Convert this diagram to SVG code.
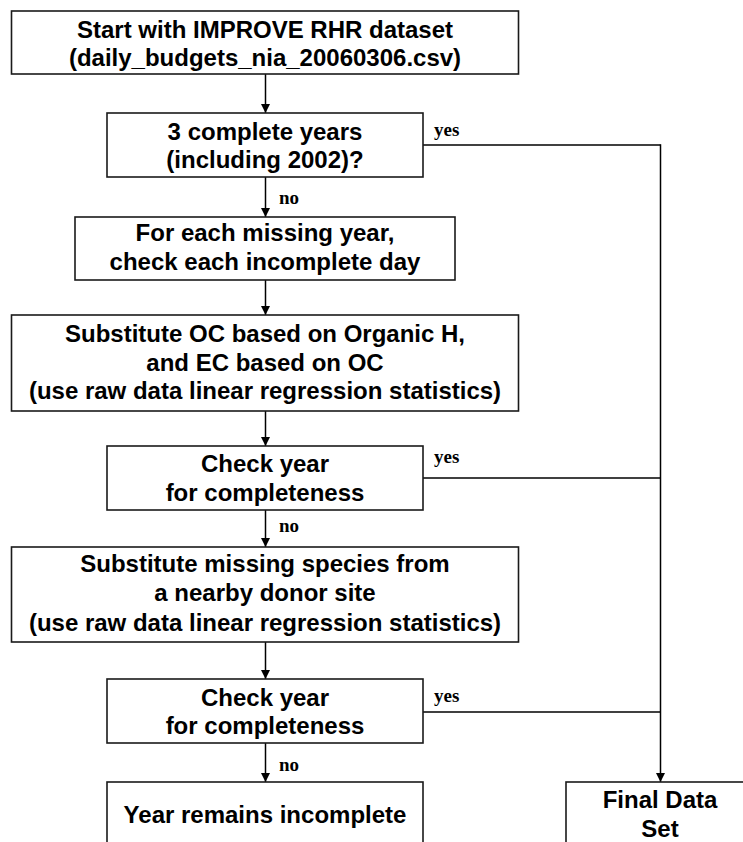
<svg xmlns="http://www.w3.org/2000/svg" width="743" height="842" viewBox="0 0 743 842">
<style>
.box{fill:#fff;stroke:#1a1a1a;stroke-width:1.6}
.t{font-family:"Liberation Sans",Arial,sans-serif;font-weight:bold;font-size:24px;fill:#000;text-anchor:middle}
.lbl{font-family:"Liberation Serif","Times New Roman",serif;font-weight:bold;font-size:19px;fill:#000}
.ln{fill:none;stroke:#000;stroke-width:1.5}
</style>
<defs>
<marker id="ah" markerUnits="userSpaceOnUse" markerWidth="10" markerHeight="11" refX="9" refY="4.5" orient="auto">
<path d="M0,0 L9,4.5 L0,9 Z" fill="#000"/>
</marker>
</defs>
<rect width="743" height="842" fill="#fff"/>
<g id="connectors">
<line class="ln" x1="265.5" y1="74" x2="265.5" y2="113" marker-end="url(#ah)"/>
<line class="ln" x1="265.5" y1="177" x2="265.5" y2="217" marker-end="url(#ah)"/>
<line class="ln" x1="265.5" y1="280" x2="265.5" y2="315" marker-end="url(#ah)"/>
<line class="ln" x1="265.5" y1="411" x2="265.5" y2="446" marker-end="url(#ah)"/>
<line class="ln" x1="265.5" y1="510" x2="265.5" y2="547" marker-end="url(#ah)"/>
<line class="ln" x1="265.5" y1="642" x2="265.5" y2="679" marker-end="url(#ah)"/>
<line class="ln" x1="265.5" y1="743" x2="265.5" y2="782" marker-end="url(#ah)"/>
<line class="ln" x1="423" y1="145" x2="660.5" y2="145"/>
<line class="ln" x1="423" y1="478" x2="660.5" y2="478"/>
<line class="ln" x1="423" y1="712" x2="660.5" y2="712"/>
<line class="ln" x1="660.5" y1="144.25" x2="660.5" y2="782" marker-end="url(#ah)"/>
<text class="lbl" x="434" y="136">yes</text>
<text class="lbl" x="434" y="463">yes</text>
<text class="lbl" x="434" y="702">yes</text>
<text class="lbl" x="279" y="204">no</text>
<text class="lbl" x="279" y="532">no</text>
<text class="lbl" x="279" y="771">no</text>
</g>
<g id="start">
<rect class="box" x="11.5" y="11" width="507" height="63"/>
<text class="t" x="265" y="38">Start with IMPROVE RHR dataset</text>
<text class="t" x="265" y="66">(daily_budgets_nia_20060306.csv)</text>
</g>
<g id="check3years">
<rect class="box" x="107" y="113" width="316" height="64"/>
<text class="t" x="265" y="140">3 complete years</text>
<text class="t" x="265" y="168">(including 2002)?</text>
</g>
<g id="eachmissing">
<rect class="box" x="75" y="217" width="380" height="63"/>
<text class="t" x="265" y="241">For each missing year,</text>
<text class="t" x="265" y="270">check each incomplete day</text>
</g>
<g id="substituteOC">
<rect class="box" x="11.5" y="315" width="507" height="96"/>
<text class="t" x="265" y="342">Substitute OC based on Organic H,</text>
<text class="t" x="265" y="371">and EC based on OC</text>
<text class="t" x="265" y="399">(use raw data linear regression statistics)</text>
</g>
<g id="checkyear1">
<rect class="box" x="107" y="446" width="316" height="64"/>
<text class="t" x="265" y="472">Check year</text>
<text class="t" x="265" y="501">for completeness</text>
</g>
<g id="substituteDonor">
<rect class="box" x="11.5" y="547" width="507" height="95"/>
<text class="t" x="265" y="572">Substitute missing species from</text>
<text class="t" x="265" y="601">a nearby donor site</text>
<text class="t" x="265" y="631">(use raw data linear regression statistics)</text>
</g>
<g id="checkyear2">
<rect class="box" x="107" y="679" width="316" height="64"/>
<text class="t" x="265" y="706">Check year</text>
<text class="t" x="265" y="734">for completeness</text>
</g>
<g id="incomplete">
<rect class="box" x="107" y="782" width="316" height="80"/>
<text class="t" x="265" y="823">Year remains incomplete</text>
</g>
<g id="final">
<rect class="box" x="566" y="782" width="190" height="80"/>
<text class="t" x="660" y="808">Final Data</text>
<text class="t" x="660" y="837">Set</text>
</g>
</svg>
